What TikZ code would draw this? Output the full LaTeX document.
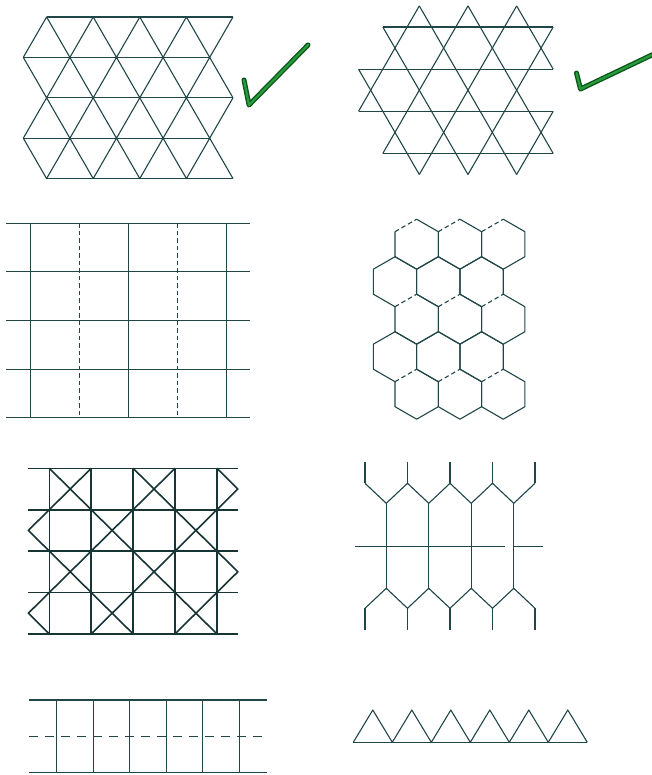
\documentclass[tikz,border=0pt]{standalone}
\usepackage{xcolor}
\usepackage{tikz}
\definecolor{ink}{RGB}{32,70,72}
\definecolor{tickdark}{RGB}{12,88,28}
\definecolor{tickgreen}{RGB}{40,155,60}

\begin{document}
\begin{tikzpicture}[x=1pt,y=-1pt,
  ln/.style={draw=ink,line width=1.1pt,line join=round},
  xgrid/.style={draw=ink!75!black,line width=1.6pt,line join=round},
  dashln/.style={ln,dash pattern=on 4.5pt off 3pt},
  longdash/.style={ln,dash pattern=on 9pt off 7pt},
  tickout/.style={draw=tickdark,line width=5pt,line cap=round,line join=round},
  tickin/.style={draw=tickgreen,line width=2.2pt,line cap=round,line join=round}]
  \useasboundingbox (0,0) rectangle (652,775);

  % triangles
  \foreach \r in {0,...,4} \draw[ln] ({46.6-23.3*mod(\r,2)},{17+40.4*\r}) -- ++(186.4,0);
  \foreach \r in {0,...,3} \draw[ln] (23.3,{17+40.4*(\r+mod(\r+1,2))}) \foreach \j in {1,...,9} { -- ({23.3+23.3*\j},{17+40.4*(\r+mod(\j+\r+1,2))}) };
  \draw[tickout] (244,80) -- (249,105) -- (308,45);
  \draw[tickin] (244,80) -- (249,105) -- (308,45);

  % stars
  \foreach \n/\x in {0/419.3,1/467.97,2/516.64} {
    \coordinate (t\n) at (\x,5.9);
    \coordinate (b\n) at (\x,174.5);
  }
  \coordinate (l1) at (382.8,27);    \coordinate (r1) at (553.2,27);
  \coordinate (l2) at (358.5,69.15); \coordinate (r2) at (553.2,69.15);
  \coordinate (l3) at (358.5,111.3); \coordinate (r3) at (553.2,111.3);
  \coordinate (l4) at (382.8,153.45); \coordinate (r4) at (553.2,153.45);
  \foreach \i in {1,...,4} \draw[ln] (l\i) -- (r\i);
  \draw[ln] (t0) -- (l3) (t1) -- (l4) (t2) -- (b0) (r1) -- (b1) (r3) -- (b2);
  \draw[ln] (l1) -- (b1) (l2) -- (b0) (t0) -- (b2) (t1) -- (r4) (t2) -- (r2);
  \draw[tickout] (576.5,73) -- (580.5,89) -- (656,53);
  \draw[tickin] (576.5,73) -- (580.5,89) -- (656,53);

  % squares
  \foreach \r in {0,...,4} \draw[ln] (6,{223.3+48.6*\r}) -- (250,{223.3+48.6*\r});
  \foreach \k in {0,2,4} \draw[ln] ({30.7+49*\k},223.3) -- ({30.7+49*\k},417.7);
  \foreach \k in {1,3} \draw[dashln] ({30.7+49*\k},223.3) -- ({30.7+49*\k},417.7);

  % honeycomb
  \foreach \r in {0,...,4} {
    \foreach \k in {0,1,2} {
      \pgfmathsetmacro{\cx}{416.65+43.3*\k-21.65*mod(\r,2)}
      \pgfmathsetmacro{\cy}{244.2+37.5*\r}
      \ifodd\r
        \draw[ln] (\cx,{\cy+25}) -- ({\cx-21.65},{\cy+12.5}) -- ({\cx-21.65},{\cy-12.5}) -- (\cx,{\cy-25}) -- ({\cx+21.65},{\cy-12.5}) -- ({\cx+21.65},{\cy+12.5});
      \else
        \draw[ln] (\cx,{\cy-25}) -- ({\cx+21.65},{\cy-12.5}) -- ({\cx+21.65},{\cy+12.5}) -- (\cx,{\cy+25}) -- ({\cx-21.65},{\cy+12.5}) -- ({\cx-21.65},{\cy-12.5});
        \draw[dashln] ({\cx-21.65},{\cy-12.5}) -- (\cx,{\cy-25});
      \fi
    }
  }

  % squares and crosses
  \foreach \r in {0,...,4} \draw[xgrid] (28.3,{468.3+41.4*\r}) -- (238,{468.3+41.4*\r});
  \foreach \k in {0,...,4} \draw[xgrid] ({49.3+41.9*\k},468.3) -- ({49.3+41.9*\k},633.9);
  \foreach \r in {0,...,3} \foreach \k in {0,...,3} {
    \pgfmathparse{int(mod(\r+\k,2))}
    \ifnum\pgfmathresult=0
      \draw[xgrid] ({49.3+41.9*\k},{468.3+41.4*\r}) -- ++(41.9,41.4) ({91.2+41.9*\k},{468.3+41.4*\r}) -- ++(-41.9,41.4);
    \fi
  }
  \foreach \r in {1,3} \draw[xgrid] (49.3,{468.3+41.4*\r}) -- ++(-20.95,20.7) -- ++(20.95,20.7);
  \foreach \r in {0,2} \draw[xgrid] (216.9,{468.3+41.4*\r}) -- ++(20.95,20.7) -- ++(-20.95,20.7);

  % long hexagons
  \foreach \i in {0,...,4} \draw[ln] ({365+42.5*\i},461.7) -- ({365+42.5*\i},483.3);
  \foreach \i in {0,...,4} \draw[ln] ({365+42.5*\i},608.3) -- ({365+42.5*\i},630);
  \draw[ln] (365,483.3) \foreach \i in {0,...,3} { -- ({386.25+42.5*\i},503.3) -- ({407.5+42.5*\i},483.3) };
  \draw[ln] (365,608.3) \foreach \i in {0,...,3} { -- ({386.25+42.5*\i},588.3) -- ({407.5+42.5*\i},608.3) };
  \foreach \i in {0,...,3} \draw[ln] ({386.25+42.5*\i},503.3) -- ({386.25+42.5*\i},588.3);
  \draw[ln] (355,546.7) -- (505,546.7);
  \draw[ln] (513.75,546.7) -- (542.7,546.7);

  % ladder
  \draw[ln] (29.3,700) -- (266.7,700);
  \draw[ln] (29.3,772.7) -- (266.7,772.7);
  \draw[longdash] (29.3,736.7) -- (266.7,736.7);
  \foreach \k in {0,...,5} \draw[ln] ({56.7+36.5*\k},700) -- ({56.7+36.5*\k},772.7);

  % saw teeth
  \draw[ln] (353.3,742.3) -- (587.3,742.3);
  \draw[ln] (353.3,742.3) \foreach \k in {0,...,5} { -- ({372.8+39*\k},710) -- ({392.3+39*\k},742.3) };
\end{tikzpicture}
\end{document}
